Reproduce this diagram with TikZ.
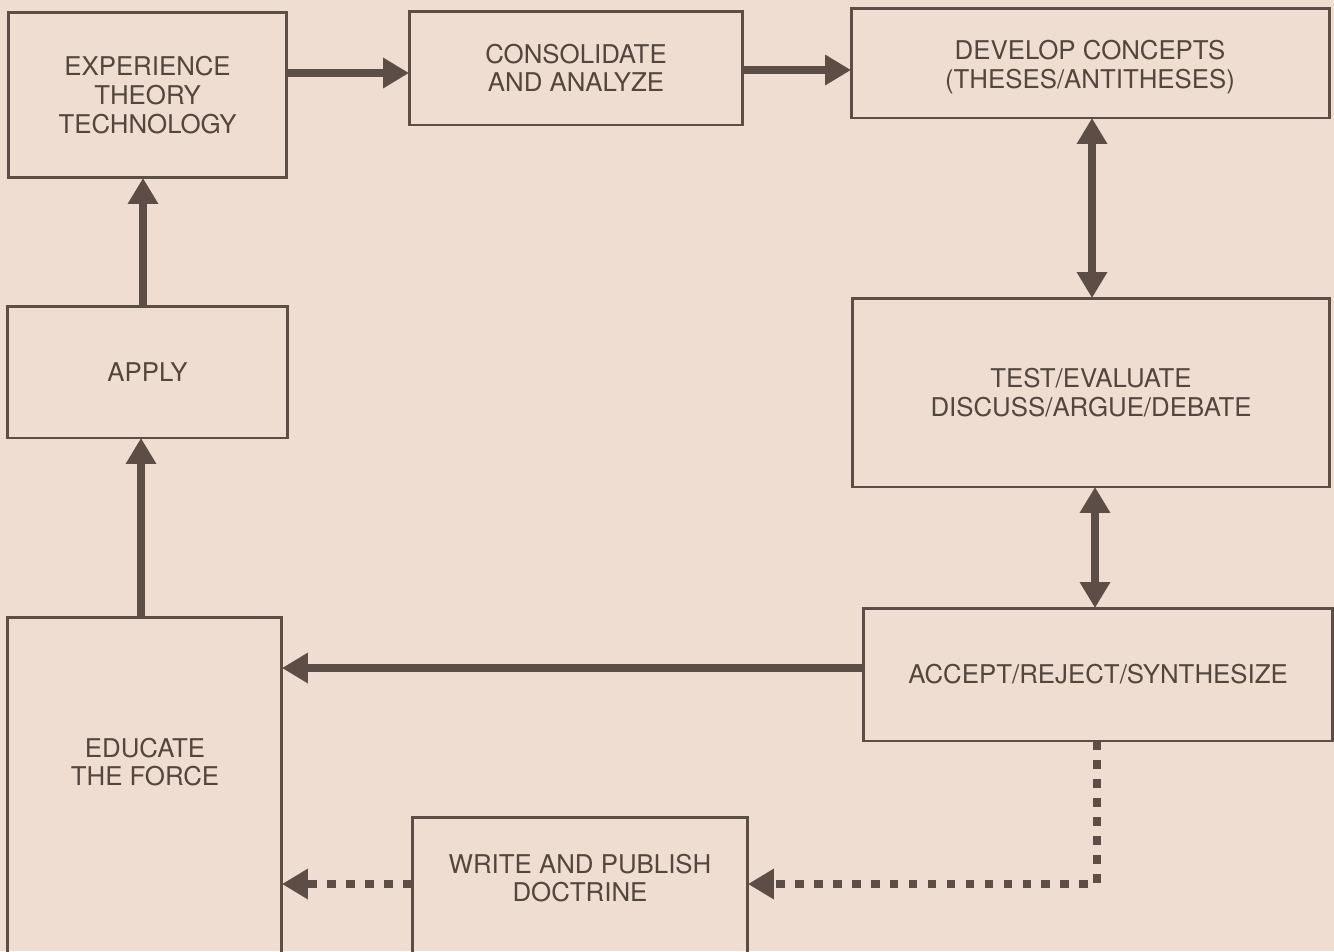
\documentclass[tikz,border=0pt]{standalone}
\usepackage{fontspec}
\setmainfont{TeX Gyre Heros}
\usepackage{tikz}
\usetikzlibrary{arrows.meta}
\usepackage{xcolor}

\definecolor{paper}{HTML}{EEDDD0}
\definecolor{ink}{HTML}{5C4E46}

\tikzset{
    box/.style={draw=ink, line width=1.7pt, inner sep=0pt, outer sep=0pt, align=center, text=ink!90!black},
    label text/.style={align=center, text=ink!90!black, inner sep=0pt},
    flow/.style={draw=ink, line width=4.8pt, -{Triangle[length=0.52cm,width=0.58cm]}},
    both/.style={draw=ink, line width=4.8pt, {Triangle[length=0.52cm,width=0.58cm]}-{Triangle[length=0.52cm,width=0.58cm]}},
    feed/.style={draw=ink, line width=4.8pt, dash pattern=on 5pt off 5.8pt, -{Triangle[length=0.52cm,width=0.58cm]}}
}

\begin{document}
\begin{tikzpicture}[x=0.02cm, y=-0.02cm, font=\fontsize{14.7}{16.3}\selectfont]
            \fill[paper] (0,0) rectangle (1334,951);
            \clip (0,0) rectangle (1334,951);

            \node[box, minimum width=5.58cm, minimum height=3.32cm] (exp) at (147.5,95) {EXPERIENCE\\THEORY\\TECHNOLOGY};
            \node[box, minimum width=6.68cm, minimum height=2.28cm] (cons) at (576,68) {CONSOLIDATE\\AND ANALYZE};
            \node[box, minimum width=9.58cm, minimum height=2.2cm] (dev) at (1090.5,63) {};
            \node[label text] (dev-t) at (1090,67) {DEVELOP CONCEPTS\\(THESES/ANTITHESES)};
            \node[box, minimum width=9.56cm, minimum height=3.78cm] (test) at (1091,392.5) {TEST/EVALUATE\\DISCUSS/ARGUE/DEBATE};
            \node[box, minimum width=9.4cm, minimum height=2.66cm] (acc) at (1098,674.5) {ACCEPT/REJECT/SYNTHESIZE};
            \node[box, minimum width=5.62cm, minimum height=2.64cm] (app) at (147.5,372) {APPLY};
            \node[box, minimum width=5.5cm, minimum height=7.26cm] (edu) at (144.5,798.5) {};
            \node[label text] (edu-t) at (145,762) {EDUCATE\\THE FORCE};
            \node[box, minimum width=6.72cm, minimum height=3.26cm] (wr) at (580,898.5) {};
            \node[label text] (wr-t) at (580,878) {WRITE AND PUBLISH\\DOCTRINE};

            \draw[flow] (exp.east |- 0,73) -- (cons.west |- 0,73);
            \draw[flow] (cons.east |- 0,70) -- (dev.west |- 0,70);
            \draw[both] (dev.south -| 1092,0) -- (test.north -| 1092,0);
            \draw[both] (test.south -| 1095,0) -- (acc.north -| 1095,0);
            \draw[flow] (acc.west |- 0,668) -- (edu.east |- 0,668);
            \draw[flow] (app.north -| 143,0) -- (exp.south -| 143,0);
            \draw[flow] (edu.north -| 141,0) -- (app.south -| 141,0);

            \draw[feed] (acc.south -| 1097,0) |- (wr.east |- 0,884);
            \draw[feed] (wr.west |- 0,884) -- (edu.east |- 0,884);

        \end{tikzpicture}
\end{document}
